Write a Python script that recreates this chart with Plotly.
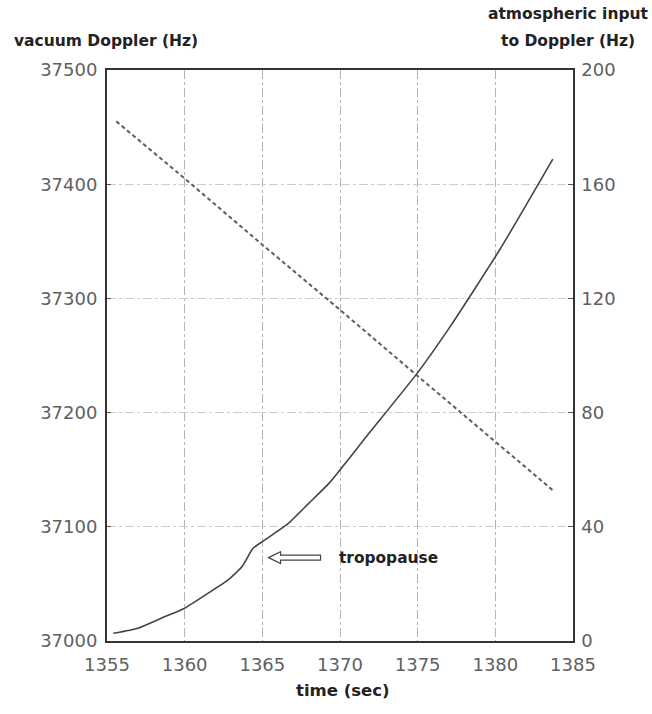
import plotly.graph_objects as go

# vacuum Doppler (left axis, Hz) - dashed line
vac_time = [1355.6, 1360.0, 1365.0, 1370.0, 1375.0, 1380.0, 1383.7]
vac_hz = [37455, 37405, 37347, 37290, 37232, 37175, 37132]

# atmospheric input to Doppler (right axis, Hz) - solid line
atm_time = [1355.4, 1357.0, 1358.5, 1360.0, 1361.5, 1362.8, 1363.7, 1364.4, 1365.0,
            1365.8, 1366.7, 1368.0, 1369.3, 1371.7, 1375.0, 1377.1, 1380.3, 1383.7]
atm_hz = [2.7, 4.5, 8.0, 11.5, 16.7, 21.4, 26.1, 32.5, 34.8,
          37.8, 41.3, 48.3, 55.3, 71.6, 94.0, 110.2, 137.2, 168.8]

x_ticks = [1355, 1360, 1365, 1370, 1375, 1380, 1385]
y_ticks = [37000, 37100, 37200, 37300, 37400, 37500]
y2_ticks = [0, 40, 80, 120, 160, 200]

tick_font = dict(family="DejaVu Sans", size=18, color="#606060")
title_font = dict(family="DejaVu Sans", size=15.5, color="#222222")

# plot area in pixels
L, R, T, B = 107, 573, 70, 641
W, H = 652, 714


def px(x):
    return (x - L) / (R - L)


def py(y):
    return (B - y) / (B - T)


fig = go.Figure()
fig.add_trace(go.Scatter(x=vac_time, y=vac_hz, mode="lines",
                         line=dict(color="#5e5e5e", width=2, dash="4px,3px"),
                         showlegend=False, yaxis="y"))
fig.add_trace(go.Scatter(x=atm_time, y=atm_hz, mode="lines",
                         line=dict(color="#444444", width=1.6, shape="spline", smoothing=0.5),
                         showlegend=False, yaxis="y2"))

# hollow arrow pointing at the tropopause (tip in data coords, size in pixel steps)
tip_t, tip_v = 1365.4, 37073
px_t = 30 / (R - L)
px_v = 500 / (B - T)
pts = [(0, 0), (12, -6), (12, -2.5), (52, -2.5), (52, 2.5), (12, 2.5), (12, 6)]
path = "M " + " L ".join(f"{tip_t + a * px_t:.4f},{tip_v - b * px_v:.3f}" for a, b in pts) + " Z"
fig.add_shape(type="path", path=path, xref="x", yref="y",
              line=dict(color="#444444", width=1.2), fillcolor="white")

fig.add_annotation(x=1369.8, y=37073, xref="x", yref="y", text="<b>tropopause</b>",
                   showarrow=False, xanchor="left", yanchor="middle",
                   font=dict(family="DejaVu Sans", size=15.4, color="#222222"))

fig.add_annotation(x=px(12), y=py(41), xref="paper", yref="paper",
                   text="<b>vacuum Doppler (Hz)</b>",
                   showarrow=False, xanchor="left", yanchor="middle", font=title_font)
fig.add_annotation(x=px(568), y=py(14), xref="paper", yref="paper",
                   text="<b>atmospheric input</b>", showarrow=False,
                   xanchor="center", yanchor="middle", font=title_font)
fig.add_annotation(x=px(568), y=py(41), xref="paper", yref="paper",
                   text="<b>to Doppler (Hz)</b>", showarrow=False,
                   xanchor="center", yanchor="middle", font=title_font)
fig.add_annotation(x=px(343), y=py(690), xref="paper", yref="paper",
                   text="<b>time (sec)</b>", showarrow=False,
                   xanchor="center", yanchor="middle",
                   font=dict(family="DejaVu Sans", size=16.5, color="#222222"))

fig.update_layout(
    width=W, height=H,
    margin=dict(l=L, r=W - R, t=T, b=H - B),
    paper_bgcolor="white", plot_bgcolor="white",
    xaxis=dict(range=[1355, 1385], tickvals=x_ticks, ticktext=[str(v) for v in x_ticks],
               showline=True, linecolor="#333333", linewidth=1.5, mirror=True,
               showgrid=True, gridcolor="#b4b4b4", gridwidth=1, griddash="dashdot",
               ticks="", tickfont=tick_font, zeroline=False, ticklabelstandoff=7),
    yaxis=dict(range=[37000, 37500], tickvals=y_ticks, ticktext=[str(v) for v in y_ticks],
               showline=True, linecolor="#333333", linewidth=2,
               showgrid=True, gridcolor="#cccccc", gridwidth=1, griddash="dashdot",
               ticks="inside", ticklen=4, tickcolor="#555555",
               tickfont=tick_font, zeroline=False, ticklabelstandoff=4),
    yaxis2=dict(range=[0, 200], tickvals=y2_ticks, ticktext=[str(v) for v in y2_ticks],
                overlaying="y", side="right",
                showline=True, linecolor="#333333", linewidth=1.5,
                showgrid=False, ticks="inside", ticklen=5, tickcolor="#555555",
                tickfont=tick_font, zeroline=False, ticklabelstandoff=3),
)

fig.write_html("out.html")
